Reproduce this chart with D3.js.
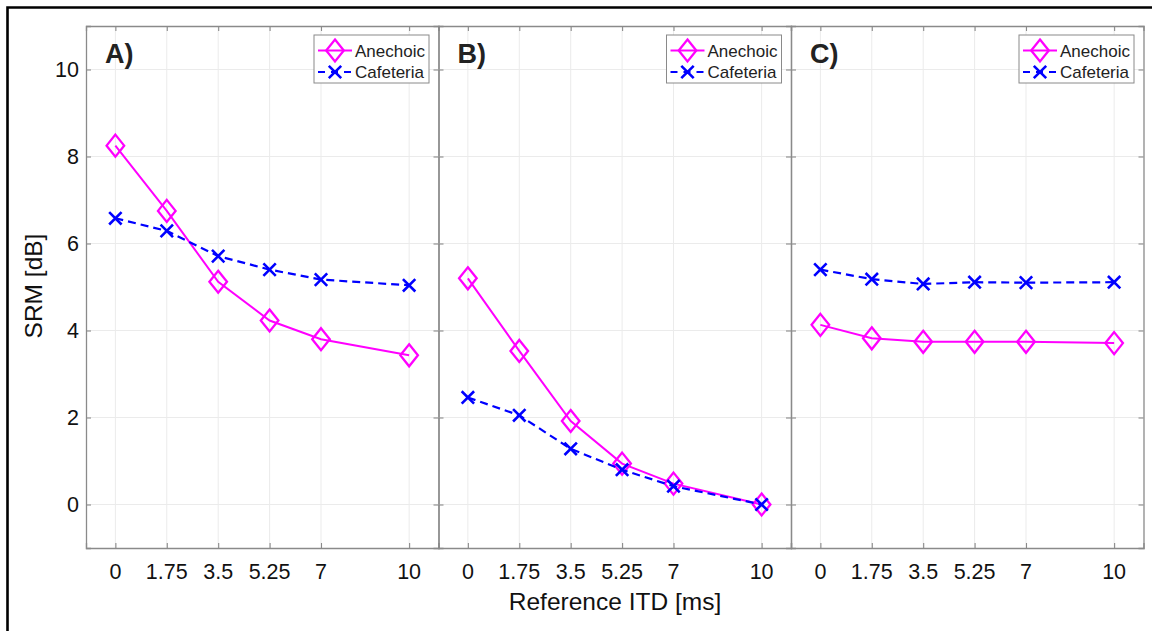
<!DOCTYPE html>
<html>
<head>
<meta charset="utf-8">
<script src="https://cdn.jsdelivr.net/npm/d3@7"></script>
<style>
  html, body { margin: 0; padding: 0; background: #fff; }
  svg { display: block; font-family: "Liberation Sans", Arial, Helvetica, sans-serif; }
</style>
</head>
<body>
<svg id="chart" width="1152" height="631"></svg>
<script>
// Reference ITD values (ms) and tick labels
const itd = [0, 1.75, 3.5, 5.25, 7, 10];
const xTickLabels = ["0", "1.75", "3.5", "5.25", "7", "10"];
const yTicks = [0, 2, 4, 6, 8, 10];

const panelLabels = ["A)", "B)", "C)"];
const seriesNames = ["Anechoic", "Cafeteria"];

// SRM [dB] per panel
const anechoicA  = [8.25, 6.75, 5.12, 4.23, 3.80, 3.43];
const cafeteriaA = [6.58, 6.29, 5.71, 5.40, 5.17, 5.04];
const anechoicB  = [5.20, 3.53, 1.92, 0.94, 0.48, 0.00];
const cafeteriaB = [2.46, 2.05, 1.28, 0.80, 0.42, 0.00];
const anechoicC  = [4.13, 3.82, 3.74, 3.74, 3.74, 3.71];
const cafeteriaC = [5.40, 5.18, 5.07, 5.11, 5.10, 5.11];

const panels = [
  { label: panelLabels[0], anechoic: anechoicA, cafeteria: cafeteriaA },
  { label: panelLabels[1], anechoic: anechoicB, cafeteria: cafeteriaB },
  { label: panelLabels[2], anechoic: anechoicC, cafeteria: cafeteriaC }
];

const svg = d3.select("#chart");

// outer frame (left and top edges visible)
svg.append("path")
  .attr("d", "M7.5,631 L7.5,7.5 L1152,7.5")
  .attr("fill", "none").attr("stroke", "#000").attr("stroke-width", 2.6);

const plotTop = 26, plotBottom = 548;
const panelLeft = 86, panelW = 352.5;
const axisCol = "#8a8a8a", gridCol = "#ebebeb";
const magenta = "#ff00ff", blue = "#0000ff";
const tickLen = 5;

const y = d3.scaleLinear().domain([-1, 11]).range([plotBottom, plotTop]);

const diamond = "M0,-11 L8.8,0 L0,11 L-8.8,0 Z";
const cross = "M-6.2,-6.2 L6.2,6.2 M-6.2,6.2 L6.2,-6.2";

function drawMarker(g, kind, cx, cy) {
  if (kind === "diamond") {
    g.append("path").attr("d", diamond)
      .attr("transform", `translate(${cx},${cy})`)
      .attr("fill", "none").attr("stroke", magenta).attr("stroke-width", 2.3);
  } else {
    g.append("path").attr("d", cross)
      .attr("transform", `translate(${cx},${cy})`)
      .attr("fill", "none").attr("stroke", blue).attr("stroke-width", 2.6);
  }
}

panels.forEach((p, i) => {
  const x0 = panelLeft + i * panelW, x1 = x0 + panelW;
  const x = d3.scaleLinear().domain([-1, 11]).range([x0, x1]);
  const g = svg.append("g");

  // grid
  g.selectAll(".gx").data(itd).enter().append("line")
    .attr("x1", d => x(d)).attr("x2", d => x(d))
    .attr("y1", plotTop).attr("y2", plotBottom)
    .attr("stroke", gridCol).attr("stroke-width", 1);
  g.selectAll(".gy").data(yTicks).enter().append("line")
    .attr("x1", x0).attr("x2", x1)
    .attr("y1", d => y(d)).attr("y2", d => y(d))
    .attr("stroke", gridCol).attr("stroke-width", 1);

  // axes (box with inward ticks on all sides)
  const axBottom = d3.axisBottom(x).tickValues(itd).tickSize(-tickLen).tickFormat(() => "");
  const axTop = d3.axisTop(x).tickValues(itd).tickSize(-tickLen).tickFormat(() => "");
  const axLeft = d3.axisLeft(y).tickValues(yTicks).tickSize(-tickLen).tickFormat(() => "");
  const axRight = d3.axisRight(y).tickValues(yTicks).tickSize(-tickLen).tickFormat(() => "");
  [[axBottom, `translate(0,${plotBottom})`], [axTop, `translate(0,${plotTop})`],
   [axLeft, `translate(${x0},0)`], [axRight, `translate(${x1},0)`]].forEach(([ax, tr]) => {
    const a = g.append("g").attr("transform", tr).call(ax);
    a.select(".domain").attr("stroke", axisCol).attr("stroke-width", 1.3);
    a.selectAll(".tick line").attr("stroke", axisCol).attr("stroke-width", 1.1);
  });

  // x tick labels
  g.selectAll(".xl").data(itd).enter().append("text")
    .attr("x", d => x(d)).attr("y", 579)
    .attr("text-anchor", "middle").attr("font-size", 21.5).attr("fill", "#111")
    .text((d, k) => xTickLabels[k]);

  // y tick labels on first panel only
  if (i === 0) {
    g.selectAll(".yl").data(yTicks).enter().append("text")
      .attr("x", x0 - 7).attr("y", d => y(d) + 7.5)
      .attr("text-anchor", "end").attr("font-size", 21.5).attr("fill", "#111")
      .text(d => d);
  }

  const line = d3.line().x((d, k) => x(itd[k])).y(d => y(d));

  // Anechoic
  g.append("path").datum(p.anechoic).attr("d", line)
    .attr("fill", "none").attr("stroke", magenta).attr("stroke-width", 2);
  p.anechoic.forEach((v, k) => drawMarker(g, "diamond", x(itd[k]), y(v)));

  // Cafeteria
  g.append("path").datum(p.cafeteria).attr("d", line)
    .attr("fill", "none").attr("stroke", blue).attr("stroke-width", 2.2)
    .attr("stroke-dasharray", "8,5");
  p.cafeteria.forEach((v, k) => drawMarker(g, "cross", x(itd[k]), y(v)));

  // panel label
  g.append("text").attr("x", x0 + 19).attr("y", 63)
    .attr("font-size", 27).attr("font-weight", "bold").attr("fill", "#222")
    .text(p.label);

  // legend
  const lx = x1 - 124.5, ly = 35, lw = 115, lh = 48;
  const lg = g.append("g");
  lg.append("rect").attr("x", lx).attr("y", ly).attr("width", lw).attr("height", lh)
    .attr("fill", "#fff").attr("stroke", "#8a8a8a").attr("stroke-width", 1);
  const rows = [ly + 15.5, ly + 37];
  lg.append("line").attr("x1", lx + 4).attr("x2", lx + 38).attr("y1", rows[0]).attr("y2", rows[0])
    .attr("stroke", magenta).attr("stroke-width", 2);
  drawMarker(lg, "diamond", lx + 21, rows[0]);
  lg.append("line").attr("x1", lx + 4).attr("x2", lx + 38).attr("y1", rows[1]).attr("y2", rows[1])
    .attr("stroke", blue).attr("stroke-width", 2.2).attr("stroke-dasharray", "7,6");
  drawMarker(lg, "cross", lx + 21, rows[1]);
  seriesNames.forEach((n, k) => {
    lg.append("text").attr("x", lx + 41).attr("y", rows[k] + 6)
      .attr("font-size", 17).attr("fill", "#222").text(n);
  });
});

// axis titles
svg.append("text").attr("x", 615).attr("y", 610)
  .attr("text-anchor", "middle").attr("font-size", 24.5).attr("fill", "#111")
  .text("Reference ITD [ms]");
svg.append("text")
  .attr("transform", "translate(42,286) rotate(-90)")
  .attr("text-anchor", "middle").attr("font-size", 24.5).attr("fill", "#111")
  .text("SRM [dB]");
</script>
</body>
</html>
